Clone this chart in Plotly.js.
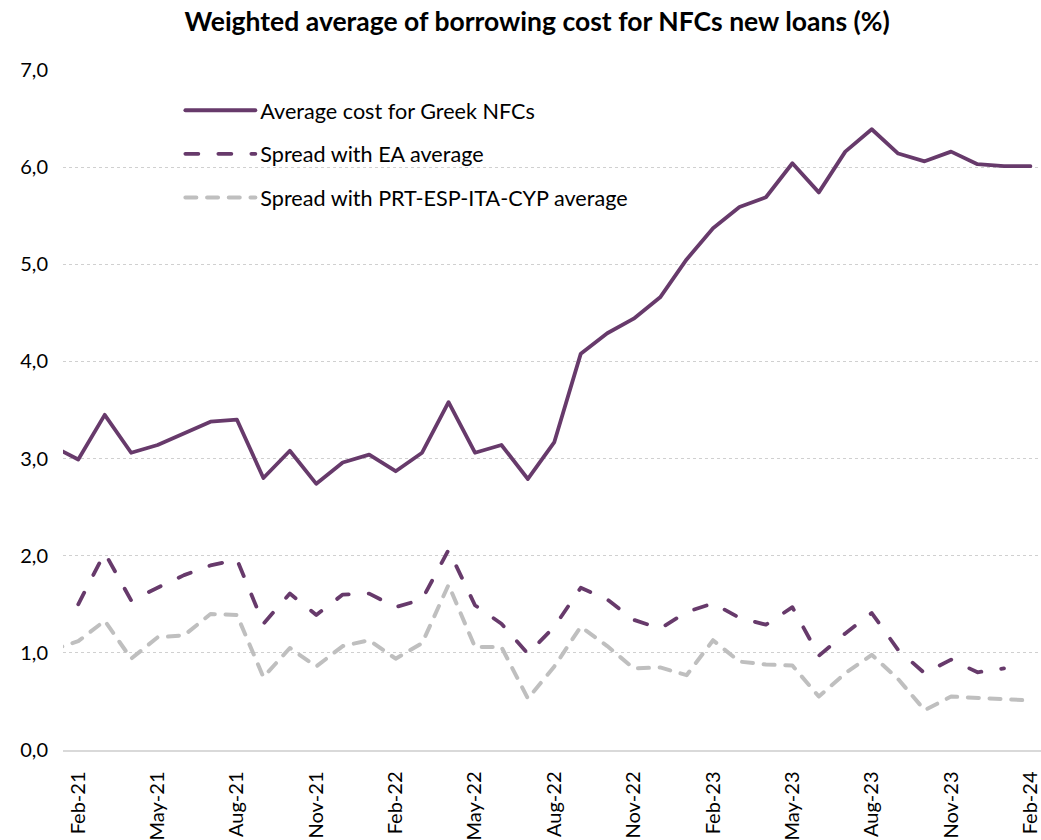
<!DOCTYPE html>
<html>
<head>
<meta charset="utf-8">
<script src="https://cdn.plot.ly/plotly-3.0.1.min.js"></script>
<style>
  html, body { margin: 0; padding: 0; background: #fff; }
  #chart { width: 1041px; height: 840px; }
  path.js-line { stroke-linecap: round; stroke-linejoin: round; }
</style>
</head>
<body>
<div id="chart"></div>
<script>
// Months (category labels)
const months = [
  'Jan-21','Feb-21','Mar-21','Apr-21','May-21','Jun-21','Jul-21','Aug-21','Sep-21','Oct-21','Nov-21','Dec-21',
  'Jan-22','Feb-22','Mar-22','Apr-22','May-22','Jun-22','Jul-22','Aug-22','Sep-22','Oct-22','Nov-22','Dec-22',
  'Jan-23','Feb-23','Mar-23','Apr-23','May-23','Jun-23','Jul-23','Aug-23','Sep-23','Oct-23','Nov-23','Dec-23',
  'Jan-24','Feb-24'
];

// Tick labels shown on the x axis
const tickLabels = ['Feb-21','May-21','Aug-21','Nov-21','Feb-22','May-22','Aug-22','Nov-22',
                    'Feb-23','May-23','Aug-23','Nov-23','Feb-24'];

// Average cost for Greek NFCs (%)
const greekCost = [
  3.13, 2.99, 3.45, 3.06, 3.14, 3.26, 3.38, 3.40, 2.80, 3.08, 2.74, 2.96,
  3.04, 2.87, 3.06, 3.58, 3.06, 3.14, 2.79, 3.17, 4.08, 4.29, 4.44, 4.66,
  5.05, 5.37, 5.59, 5.69, 6.04, 5.74, 6.16, 6.39, 6.14, 6.06, 6.16, 6.03,
  6.01, 6.01
];

// Spread with EA average (pp)
const spreadEA = [
  null, 1.50, 2.03, 1.54, 1.67, 1.80, 1.90, 1.96, 1.30, 1.61, 1.39, 1.60,
  1.61, 1.47, 1.55, 2.06, 1.49, 1.30, 0.99, 1.27, 1.67, 1.55, 1.34, 1.25,
  1.42, 1.51, 1.36, 1.29, 1.47, 0.97, 1.20, 1.41, 1.03, 0.79, 0.93, 0.80,
  0.84, null
];

// Spread with PRT-ESP-ITA-CYP average (pp)
const spreadPeers = [
  1.03, 1.12, 1.33, 0.94, 1.16, 1.18, 1.40, 1.39, 0.75, 1.05, 0.86, 1.07,
  1.13, 0.94, 1.10, 1.70, 1.06, 1.06, 0.53, 0.86, 1.27, 1.07, 0.84, 0.85,
  0.77, 1.13, 0.91, 0.88, 0.87, 0.55, 0.79, 0.98, 0.73, 0.41, 0.55, 0.54,
  0.52, 0.51
];

const purple = '#673a6b';
const grey = '#bfbfbf';

const traces = [
  {
    x: months, y: greekCost, type: 'scatter', mode: 'lines',
    name: 'Average cost for Greek NFCs', legendgroup: 'g1',
    line: { color: purple, width: 3.8 }
  },
  {
    x: months, y: spreadEA, type: 'scatter', mode: 'lines',
    name: 'Spread with EA average', legendgroup: 'g2',
    line: { color: purple, width: 3.8, dash: '13px,20px' }
  },
  {
    x: months, y: spreadPeers, type: 'scatter', mode: 'lines',
    name: 'Spread with PRT-ESP-ITA-CYP average', legendgroup: 'g3',
    line: { color: grey, width: 4, dash: '11px,10.7px' }
  }
];

const layout = {
  width: 1041, height: 840,
  margin: { l: 63, r: 0, t: 70, b: 90 },
  paper_bgcolor: '#fff', plot_bgcolor: '#fff',
  separators: ',.',
  font: { family: 'Lato, "Open Sans", sans-serif', color: '#000', size: 20 },
  title: {
    text: '<b>Weighted average of borrowing cost for NFCs new loans (%)</b>',
    font: { family: 'Lato, "Open Sans", sans-serif', size: 26.5, color: '#000' },
    xref: 'container', yref: 'container', x: 0.516, xanchor: 'center', y: 0.974, yanchor: 'middle'
  },
  showlegend: true,
  legend: {
    x: 0.12, xanchor: 'left', y: 0.971, yanchor: 'top',
    bgcolor: 'rgba(0,0,0,0)', font: { size: 21.6 },
    tracegroupgap: 12.5, itemwidth: 70, traceorder: 'grouped'
  },
  xaxis: {
    type: 'category', range: [0.423, 37.4],
    tickmode: 'array', tickvals: tickLabels, ticktext: tickLabels,
    tickangle: -90, ticks: '', showgrid: false,
    showline: true, linecolor: '#d9d9d9', linewidth: 1.5,
    tickfont: { size: 20 }, ticklabelstandoff: 12,
    automargin: false, fixedrange: true
  },
  yaxis: {
    range: [0, 7], dtick: 1, tickformat: '.1f',
    gridcolor: '#d0d0d0', griddash: 'dot', gridwidth: 1,
    zeroline: false, showline: false, ticks: '',
    tickfont: { size: 20 }, ticklabelstandoff: 14,
    automargin: false, fixedrange: true
  }
};

Plotly.newPlot('chart', traces, layout, { staticPlot: true, displayModeBar: false });
</script>
</body>
</html>
